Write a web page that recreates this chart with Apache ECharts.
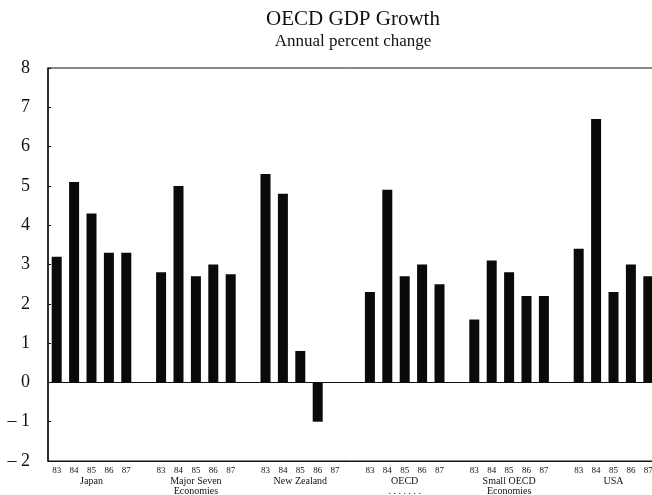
<!DOCTYPE html>
<html><head><meta charset="utf-8">
<script src="https://cdn.jsdelivr.net/npm/echarts@6/dist/echarts.min.js"></script>
<style>html,body{margin:0;padding:0;background:#fff;overflow:hidden}#c{width:652px;height:495px}</style>
</head><body><div id="c"></div>
<script>
const groups = ['Japan', 'Major Seven\nEconomies', 'New Zealand', 'OECD\n. . . . . . .', 'Small OECD\nEconomies', 'USA'];
const years = ['83', '84', '85', '86', '87'];
const japan = [3.2, 5.1, 4.3, 3.3, 3.3];
const majorSeven = [2.8, 5.0, 2.7, 3.0, 2.75];
const newZealand = [5.3, 4.8, 0.8, -1.0, null];
const oecd = [2.3, 4.9, 2.7, 3.0, 2.5];
const smallOecd = [1.6, 3.1, 2.8, 2.2, 2.2];
const usa = [3.4, 6.7, 2.3, 3.0, 2.7];
const yTicks = [-2, -1, 0, 1, 2, 3, 4, 5, 6, 7, 8];

const series = [japan, majorSeven, newZealand, oecd, smallOecd, usa];
const cats = [], values = [], groupLabels = [];
series.forEach((s, gi) => {
  years.forEach((y, i) => {
    cats.push(gi + '-' + y);
    values.push(s[i]);
    groupLabels.push(i === 2 ? groups[gi] : '');
  });
  if (gi < series.length - 1) {
    cats.push(gi + '-gap');
    values.push(null);
    groupLabels.push('');
  }
});

const serif = '"Liberation Serif","DejaVu Serif",serif';
const chart = echarts.init(document.getElementById('c'));
chart.setOption({
  animation: false,
  title: {
    text: 'OECD GDP Growth',
    subtext: 'Annual percent change',
    left: 348, top: 4, textAlign: 'center',
    textStyle: {fontFamily: serif, fontSize: 21, fontWeight: 'normal', color: '#111'},
    subtextStyle: {fontFamily: serif, fontSize: 17, color: '#111'},
    itemGap: 3
  },
  grid: {left: 48, top: 68, width: 609, height: 393, outerBoundsMode: 'none', containLabel: false,
    show: true, borderColor: '#111', borderWidth: 1},
  xAxis: [
    {
      type: 'category', data: cats, position: 'bottom',
      axisLine: {onZero: false, lineStyle: {color: '#111', width: 1}},
      axisTick: {show: false},
      axisLabel: {interval: 0, margin: 5, fontFamily: serif, fontSize: 9, color: '#111',
        formatter: v => { const p = v.split('-')[1]; return p === 'gap' ? '' : p; }}
    },
    {
      type: 'category', data: cats, gridIndex: 0,
      axisLine: {onZero: true, lineStyle: {color: '#111', width: 1.2}},
      axisTick: {show: false}, axisLabel: {show: false}
    },
    {
      type: 'category', data: groupLabels.map((g, i) => ({value: i + ':' + g})), position: 'bottom', offset: 13,
      axisLine: {show: false}, axisTick: {show: false},
      axisLabel: {interval: 0, margin: 2, fontFamily: serif, fontSize: 10, lineHeight: 10, color: '#111',
        formatter: v => v.slice(v.indexOf(':') + 1)}
    }
  ],
  yAxis: {
    type: 'value', min: yTicks[0], max: yTicks[yTicks.length - 1], interval: 1,
    axisLine: {show: true, onZero: false, lineStyle: {color: '#111', width: 1.5}},
    axisTick: {show: true, inside: true, length: 3, lineStyle: {color: '#111'}},
    splitLine: {show: false},
    axisLabel: {margin: 18, fontFamily: serif, fontSize: 18, color: '#111',
      formatter: v => v < 0 ? '\u2013 ' + Math.abs(v) : String(v)}
  },
  series: [{
    type: 'bar', xAxisIndex: 0, data: values, barWidth: 10,
    itemStyle: {color: '#0a0a0a'}
  }]
});
</script></body></html>
